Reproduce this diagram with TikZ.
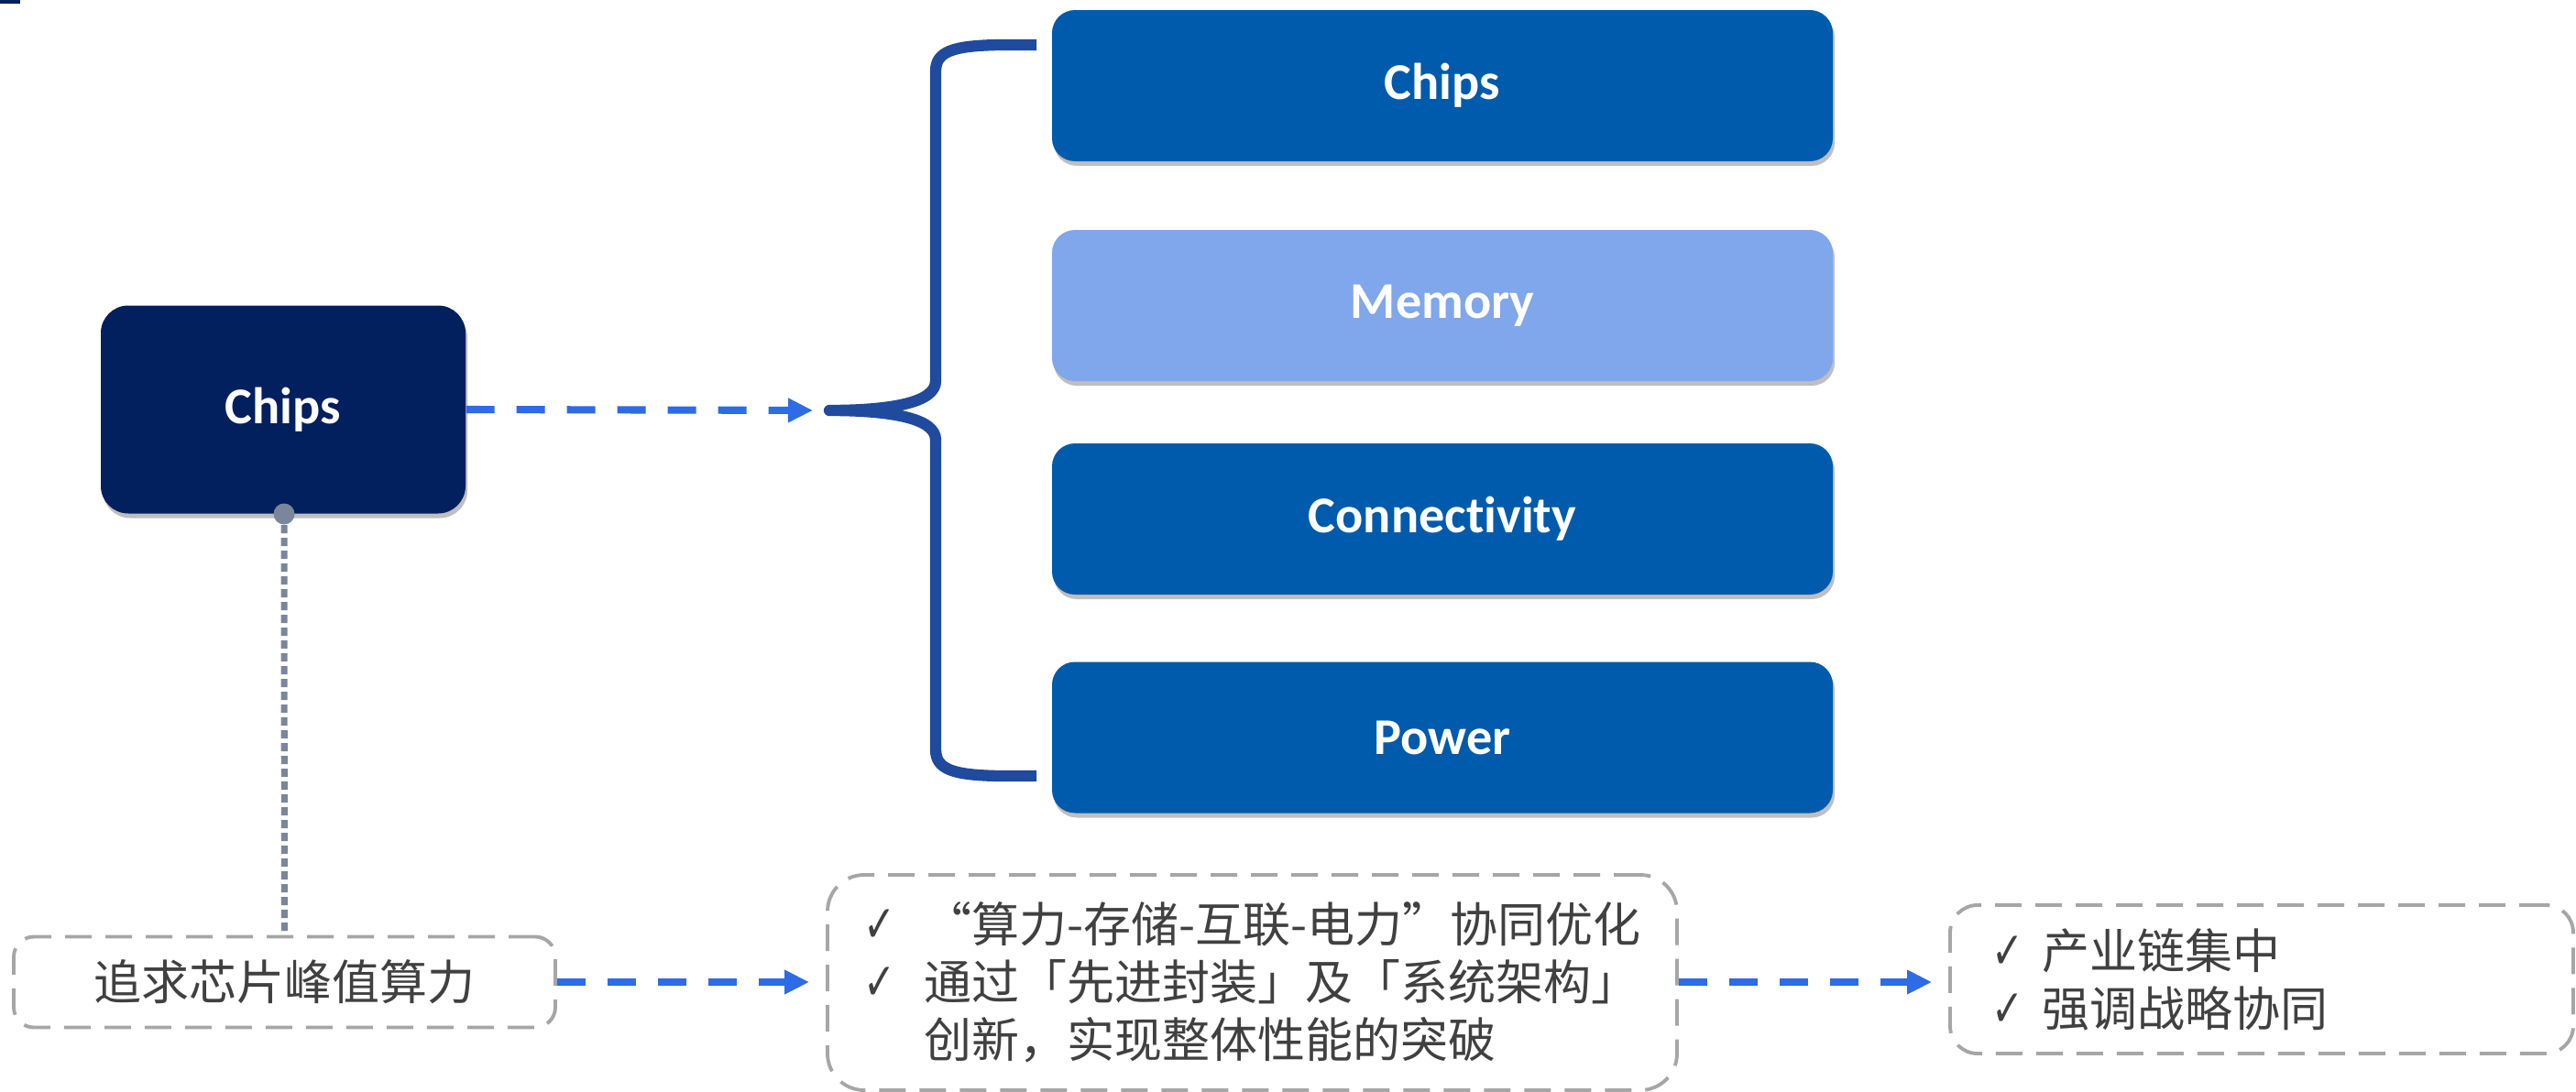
\documentclass[tikz,border=0pt]{standalone}
\usepackage{fontspec}
\usepackage{graphicx}
\setmainfont{Carlito}[Ligatures=NoCommon]
\newfontfamily\cjk{Noto Sans CJK SC}
\newfontfamily\symfont{DejaVu Sans}
\usetikzlibrary{arrows.meta,shadows}
\definecolor{navy}{RGB}{2,31,94}
\definecolor{chipblue}{RGB}{0,91,172}
\definecolor{memblue}{RGB}{128,166,235}
\definecolor{bracecol}{RGB}{31,74,158}
\definecolor{flowblue}{RGB}{46,107,230}
\definecolor{dotgray}{RGB}{122,134,154}
\definecolor{boxgray}{RGB}{166,166,166}
\definecolor{txtgray}{RGB}{64,64,64}
\newcommand{\chk}[1]{\makebox[#1][l]{\symfont\fontsize{14}{14}\selectfont\scalebox{0.85}[1.15]{✓}}}

\begin{document}
\begin{tikzpicture}[
    bluebox/.style={rounded corners=0.25cm, text=white,
       font=\bfseries\fontsize{16}{19}\selectfont,
       minimum width=8.52cm, minimum height=1.65cm,
       drop shadow={shadow xshift=0.02cm, shadow yshift=-0.05cm, opacity=0.25, fill=black}},
    dashbox/.style={draw=boxgray, line width=1.1pt, dash pattern=on 0.29cm off 0.15cm,
       text=txtgray, font=\cjk\fontsize{14.8}{17.9}\selectfont, align=left},
    flow/.style={flowblue, line width=2.3pt, dash pattern=on 0.31cm off 0.24cm,
       -{Triangle[length=0.27cm,width=0.25cm]}, shorten >=0.18cm},
    dotline/.style={dotgray, line width=2pt, dash pattern=on 0.09cm off 0.05cm}
  ]
  \useasboundingbox (0,0) rectangle (28.11,-11.92);
  \fill[navy] (0,0) rectangle (0.22,-0.04);

  \node[bluebox, fill=navy, rounded corners=0.3cm, minimum width=3.98cm, minimum height=2.27cm]
     (chipsL) at (3.09,-4.47) {Chips};
  \node[bluebox, fill=chipblue] (chips) at (15.74,-0.935) {Chips};
  \node[bluebox, fill=memblue] (memory) at (15.74,-3.335) {Memory};
  \node[bluebox, fill=chipblue] (conn) at (15.74,-5.665) {Connectivity};
  \node[bluebox, fill=chipblue] (power) at (15.74,-8.05) {Power};

  \coordinate (bracetip) at (9.05,-4.48);
  \draw[bracecol, line width=3.5pt, line join=round]
     (11.31,-0.49) -- (10.9,-0.49) .. controls (10.40,-0.50) and (10.21,-0.56) .. (10.21,-0.78)
     -- (10.21,-4.16) .. controls (10.21,-4.40) and (9.70,-4.48) .. (bracetip)
     .. controls (9.70,-4.48) and (10.21,-4.56) .. (10.21,-4.80)
     -- (10.21,-8.18) .. controls (10.21,-8.40) and (10.40,-8.46) .. (10.9,-8.47)
     -- (11.31,-8.47);

  \draw[flow] (chipsL.east) -- (bracetip);

  \node[circle, fill=dotgray, minimum size=0.23cm, inner sep=0pt] (dot) at (3.10,-5.61) {};
  \node[dashbox, rounded corners=0.22cm, minimum width=5.91cm, minimum height=0.99cm]
     (peak) at (3.105,-10.72) {追求芯片峰值算力};
  \draw[dotline] (dot) -- (peak);

  \node[dashbox, rounded corners=0.4cm, minimum width=9.27cm, minimum height=2.35cm]
     (synergy) at (13.665,-10.725)
     {\chk{0.66cm}“算力-存储-互联-电力”协同优化\\
      \chk{0.66cm}通过「先进封装」及「系统架构」\\
      \hspace*{0.66cm}创新，实现整体性能的突破};
  \node[dashbox, rounded corners=0.3cm, text width=5.9cm, inner xsep=0.45cm,
     minimum height=1.62cm] (chain) at (24.68,-10.69)
     {\chk{0.55cm}产业链集中\\
      \chk{0.55cm}强调战略协同};

  \draw[flow] (peak.east) -- (peak.east -| synergy.west);
  \draw[flow] (synergy.east |- peak.east) -- (synergy.east |- peak.east -| chain.west);
\end{tikzpicture}
\end{document}
